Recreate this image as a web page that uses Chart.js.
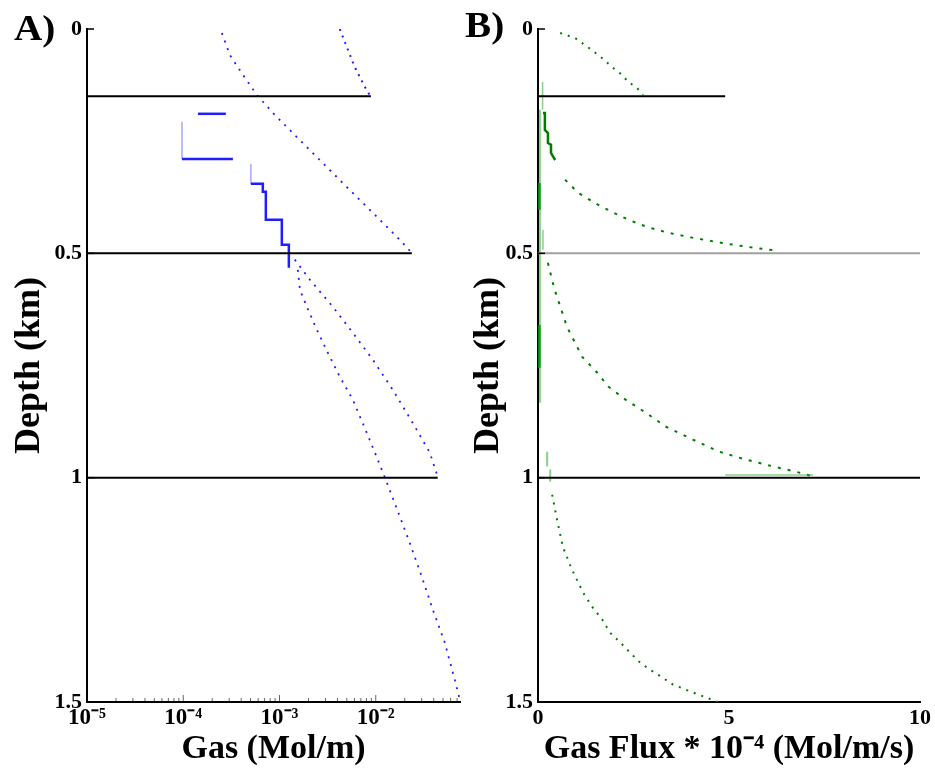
<!DOCTYPE html>
<html><head><meta charset="utf-8">
<script src="https://cdn.jsdelivr.net/npm/chart.js@4.4.1/dist/chart.umd.min.js"></script>
<style>
html,body{margin:0;padding:0;background:#fff;width:935px;height:772px;overflow:hidden}
#wrapA{position:absolute;left:0;top:0;width:465px;height:772px}
#wrapB{position:absolute;left:465px;top:0;width:470px;height:772px}
.panel{position:absolute;font-family:'Liberation Serif','Times New Roman',serif;font-weight:bold;font-size:35px;line-height:1;color:#000;transform:scaleX(1.12);transform-origin:left top}
</style></head>
<body>
<div id="wrapA"><canvas id="cA" width="465" height="772"></canvas></div>
<div id="wrapB"><canvas id="cB" width="470" height="772"></canvas></div>
<div class="panel" style="left:14px;top:11px">A)</div>
<div class="panel" style="left:465px;top:8px">B)</div>
<script>
// ---------- Data ----------
// Depth axis ticks (km)
const depthTicks = [0, 0.5, 1, 1.5];
const depthTickLabels = ['0', '0.5', '1', '1.5'];
// Panel A log-axis ticks
const xTickValuesA = [1e-5, 1e-4, 1e-3, 1e-2];
const xTickLabelsA = ['10\u207B\u2075', '10\u207B\u2074', '10\u207B\u00B3', '10\u207B\u00B2'];
// Panel B ticks
const xTickValuesB = [0, 5, 10];
const xTickLabelsB = ['0', '5', '10'];

// Layer boundaries
const layerDepths = [0.15, 0.5, 1.0];
const layerEndsA = [0.0089, 0.0237, 0.044];
const layerEndsB = [4.9, 10, 10];

// Panel A: gas (Mol/m) vs depth (km)
const gasTopX = [0.00423, 0.0050, 0.00605, 0.00769, 0.00887];
const gasTopDepth = [0.0, 0.04, 0.085, 0.129, 0.151];

const gasUpperX = [0.000252, 0.000305, 0.000416, 0.000582, 0.000853, 0.001375, 0.00262, 0.00537, 0.0110, 0.0178, 0.0237];
const gasUpperDepth = [0.009, 0.058, 0.102, 0.147, 0.187, 0.232, 0.292, 0.359, 0.425, 0.470, 0.499];

const gasStep1X = [0.000142, 0.000277];
const gasStep1Depth = [0.189, 0.189];
const gasStep2vX = [0.000097, 0.000097];
const gasStep2vDepth = [0.207, 0.290];
const gasStep2hX = [0.000097, 0.000328];
const gasStep2hDepth = [0.290, 0.290];
const gasStep3X = [0.000504, 0.000504, 0.000671, 0.000671, 0.000721, 0.000721, 0.001057, 0.001057, 0.00125, 0.00125];
const gasStep3Depth = [0.301, 0.345, 0.345, 0.363, 0.363, 0.425, 0.425, 0.481, 0.481, 0.532];

const gasMidX = [0.00144, 0.00207, 0.00358, 0.00577, 0.0093, 0.0150, 0.0242, 0.0364, 0.044];
const gasMidDepth = [0.514, 0.559, 0.619, 0.677, 0.737, 0.804, 0.878, 0.944, 0.998];

const gasDeepX = [0.00155, 0.00163, 0.00192, 0.00244, 0.00318, 0.00423, 0.00577, 0.00806, 0.0105, 0.0133, 0.0178, 0.0225, 0.0300, 0.0391, 0.0520, 0.0661, 0.0745];
const gasDeepDepth = [0.537, 0.581, 0.619, 0.670, 0.722, 0.775, 0.826, 0.900, 0.960, 1.016, 1.087, 1.145, 1.220, 1.294, 1.367, 1.450, 1.494];

// Panel B: gas flux (x 1e-4 Mol/m/s) vs depth (km)
const fluxTopX = [0.58, 0.97, 1.41, 1.68, 1.94, 2.20, 2.36, 2.59, 2.75];
const fluxTopDepth = [0.009, 0.020, 0.047, 0.065, 0.085, 0.102, 0.118, 0.131, 0.147];

const fluxStepX = [0.13, 0.18, 0.18, 0.26, 0.26, 0.34, 0.34, 0.40, 0.45];
const fluxStepDepth = [0.187, 0.187, 0.225, 0.232, 0.254, 0.258, 0.276, 0.285, 0.292];

const fluxUpperX = [0.71, 1.05, 1.49, 1.94, 2.36, 2.85, 3.40, 4.03, 4.82, 5.68, 6.26];
const fluxUpperDepth = [0.336, 0.365, 0.388, 0.408, 0.425, 0.441, 0.454, 0.465, 0.477, 0.488, 0.494];

const fluxMidX = [0.26, 0.42, 0.76, 1.16, 1.55, 1.84, 2.29, 2.82, 3.34, 4.05, 4.74, 5.45, 6.16, 6.76, 7.24];
const fluxMidDepth = [0.521, 0.577, 0.664, 0.731, 0.766, 0.797, 0.826, 0.855, 0.886, 0.915, 0.942, 0.960, 0.975, 0.987, 0.998];

const fluxDeepX = [0.37, 0.50, 0.65, 0.89, 1.18, 1.41, 1.68, 1.88, 2.15, 2.41, 2.67, 2.93, 3.25, 3.53, 3.85, 4.19, 4.71];
const fluxDeepDepth = [1.038, 1.094, 1.154, 1.205, 1.256, 1.287, 1.316, 1.345, 1.367, 1.390, 1.412, 1.428, 1.445, 1.461, 1.472, 1.483, 1.500];

// near-zero flux traces along the depth axis
const fluxNearA_X = [0.12, 0.12];      const fluxNearA_D = [0.118, 0.180];
const fluxNearB_X = [0.05, 0.05];      const fluxNearB_D = [0.180, 0.833];
const fluxNearC_X = [0.03, 0.03];      const fluxNearC_D = [0.343, 0.403];
const fluxNearD_X = [0.03, 0.03];      const fluxNearD_D = [0.660, 0.755];
const fluxNearE_X = [0.13, 0.13];      const fluxNearE_D = [0.448, 0.492];
const fluxNearF_X = [0.24, 0.24];      const fluxNearF_D = [0.942, 0.975];
const fluxNearG_X = [0.32, 0.32];      const fluxNearG_D = [0.982, 1.009];
const fluxNearH_X = [4.9, 7.2];        const fluxNearH_D = [0.994, 0.994];

// ---------- Styling / helpers ----------
const SERIF = "'Liberation Serif', 'Times New Roman', serif";
Chart.defaults.font.family = SERIF;
Chart.defaults.font.weight = 'bold';
Chart.defaults.color = '#000';

const BLUE = 'rgb(30,30,255)';
const BLUE_LIGHT = 'rgba(60,60,255,0.45)';
const GREEN = 'rgb(0,125,0)';
const GREEN_LIGHT = 'rgba(40,170,40,0.55)';

function pts(xs, ds) { return xs.map((x, i) => ({ x: x, y: ds[i] })); }
function line(xs, ds, color, width, dash, extra) {
  return Object.assign({
    data: pts(xs, ds), borderColor: color, backgroundColor: color,
    borderWidth: width, borderDash: dash || [], showLine: true,
    pointRadius: 0, pointHoverRadius: 0, fill: false, tension: 0, borderCapStyle: 'butt'
  }, extra || {});
}
function labelFor(values, labels, v, isLog) {
  const i = values.findIndex(t => isLog ? Math.abs(Math.log10(t) - Math.log10(v)) < 1e-6 : Math.abs(t - v) < 1e-9);
  return i >= 0 ? labels[i] : '';
}

const innerTicks = {
  id: 'innerTicks',
  afterDraw(chart, args, opts) {
    const ctx = chart.ctx, a = chart.chartArea, xs = chart.scales.x, ys = chart.scales.y;
    ctx.save();
    ctx.strokeStyle = '#000';
    ctx.lineWidth = 1.5;
    depthTicks.forEach(v => {
      const py = ys.getPixelForValue(v);
      ctx.beginPath(); ctx.moveTo(a.left, py); ctx.lineTo(a.left + 7, py); ctx.stroke();
    });
    if (opts.logMinor) {
      ctx.lineWidth = 1;
      ctx.strokeStyle = 'rgba(0,0,0,0.6)';
      for (let d = -5; d <= -2; d++) {
        for (let m = 1; m <= 9; m++) {
          const v = m * Math.pow(10, d);
          if (v > xs.max) continue;
          const px = xs.getPixelForValue(v);
          const len = m === 1 ? 7 : 4;
          ctx.beginPath(); ctx.moveTo(px, a.bottom); ctx.lineTo(px, a.bottom - len); ctx.stroke();
        }
      }
    }
    ctx.restore();
  }
};

function yScale(width, titlePad) {
  return {
    type: 'linear', reverse: true, min: 0, max: 1.5,
    afterBuildTicks: s => { s.ticks = depthTicks.map(v => ({ value: v })); },
    ticks: { font: { size: 22, weight: 'bold' }, padding: 5, color: '#000',
      callback: v => labelFor(depthTicks, depthTickLabels, v, false) },
    grid: { display: false, drawTicks: false },
    border: { display: true, color: '#000', width: 2 },
    title: { display: true, text: 'Depth (km)', font: { size: 36, weight: 'bold' }, color: '#000', padding: { top: titlePad, bottom: 0 } },
    afterFit: s => { s.width = width; }
  };
}

// ---------- Panel A ----------
const layerColorsA = ['#000', '#000', '#000'];
const dsA = [];
layerDepths.forEach((d, i) => dsA.push(line([1e-5, layerEndsA[i]], [d, d], layerColorsA[i], 2)));
dsA.push(line(gasTopX, gasTopDepth, BLUE, 2, [2, 5]));
dsA.push(line(gasUpperX, gasUpperDepth, BLUE, 1.8, [2, 6]));
dsA.push(line(gasStep1X, gasStep1Depth, BLUE, 2.5));
dsA.push(line(gasStep2vX, gasStep2vDepth, BLUE_LIGHT, 1.5));
dsA.push(line(gasStep2hX, gasStep2hDepth, BLUE, 2.5));
dsA.push(line(gasStep3X, gasStep3Depth, BLUE, 2.5, [], {
  segment: { borderColor: c => c.p0DataIndex === 0 ? BLUE_LIGHT : BLUE, borderWidth: c => c.p0DataIndex === 0 ? 1.5 : 2.5 }
}));
dsA.push(line(gasMidX, gasMidDepth, BLUE, 1.8, [2, 6]));
dsA.push(line(gasDeepX, gasDeepDepth, BLUE, 1.8, [2, 6]));

new Chart(document.getElementById('cA'), {
  type: 'scatter',
  data: { datasets: dsA },
  plugins: [innerTicks],
  options: {
    responsive: false, animation: false, events: [],
    layout: { padding: { left: 0, right: 5, top: 29, bottom: 0 } },
    plugins: { legend: { display: false }, tooltip: { enabled: false }, innerTicks: { logMinor: true } },
    scales: {
      x: {
        type: 'logarithmic', min: 1e-5, max: 0.075,
        afterBuildTicks: s => { s.ticks = xTickValuesA.map(v => ({ value: v })); },
        ticks: {
          autoSkip: false, maxRotation: 0, padding: 2, font: { size: 23, weight: 'bold' }, color: '#000',
          callback: v => labelFor(xTickValuesA, xTickLabelsA, v, true)
        },
        grid: { display: false, drawTicks: false },
        border: { display: true, color: '#000', width: 2 },
        title: { display: true, text: 'Gas (Mol/m)', font: { size: 34, weight: 'bold' }, color: '#000', padding: { top: 0, bottom: 2 } },
        afterFit: s => { s.height = 70; }
      },
      y: yScale(87, 8)
    }
  }
});

// ---------- Panel B ----------
const layerColorsB = ['#000', '#a0a0a0', '#000'];
const dsB = [];
layerDepths.forEach((d, i) => dsB.push(line([0, layerEndsB[i]], [d, d], layerColorsB[i], 2)));
dsB.push(line(fluxNearB_X, fluxNearB_D, GREEN_LIGHT, 2));
dsB.push(line(fluxNearA_X, fluxNearA_D, GREEN_LIGHT, 1.5));
dsB.push(line(fluxNearC_X, fluxNearC_D, GREEN, 3));
dsB.push(line(fluxNearD_X, fluxNearD_D, GREEN, 3));
dsB.push(line(fluxNearE_X, fluxNearE_D, GREEN_LIGHT, 1.5));
dsB.push(line(fluxNearF_X, fluxNearF_D, GREEN_LIGHT, 2));
dsB.push(line(fluxNearG_X, fluxNearG_D, GREEN_LIGHT, 2));
dsB.push(line(fluxNearH_X, fluxNearH_D, GREEN_LIGHT, 1.5));
dsB.push(line(fluxTopX, fluxTopDepth, GREEN, 2, [2, 6]));
dsB.push(line(fluxStepX, fluxStepDepth, GREEN, 2.5));
dsB.push(line(fluxUpperX, fluxUpperDepth, GREEN, 2, [3, 7]));
dsB.push(line(fluxMidX, fluxMidDepth, GREEN, 2, [3, 7]));
dsB.push(line(fluxDeepX, fluxDeepDepth, GREEN, 2, [2, 6]));

new Chart(document.getElementById('cB'), {
  type: 'scatter',
  data: { datasets: dsB },
  plugins: [innerTicks],
  options: {
    responsive: false, animation: false, events: [],
    layout: { padding: { left: 0, right: 15, top: 29, bottom: 0 } },
    plugins: { legend: { display: false }, tooltip: { enabled: false }, innerTicks: { logMinor: false } },
    scales: {
      x: {
        type: 'linear', min: 0, max: 10,
        afterBuildTicks: s => { s.ticks = xTickValuesB.map(v => ({ value: v })); },
        ticks: { autoSkip: false, maxRotation: 0, padding: 3, font: { size: 22, weight: 'bold' }, color: '#000',
          callback: v => labelFor(xTickValuesB, xTickLabelsB, v, false) },
        grid: { display: false, drawTicks: false },
        border: { display: true, color: '#000', width: 2 },
        title: { display: true, text: 'Gas Flux * 10\u207B\u2074 (Mol/m/s)', font: { size: 34, weight: 'bold' }, color: '#000', padding: { top: 0, bottom: 2 } },
        afterFit: s => { s.height = 70; }
      },
      y: yScale(73, 2)
    }
  }
});
</script>
</body></html>
